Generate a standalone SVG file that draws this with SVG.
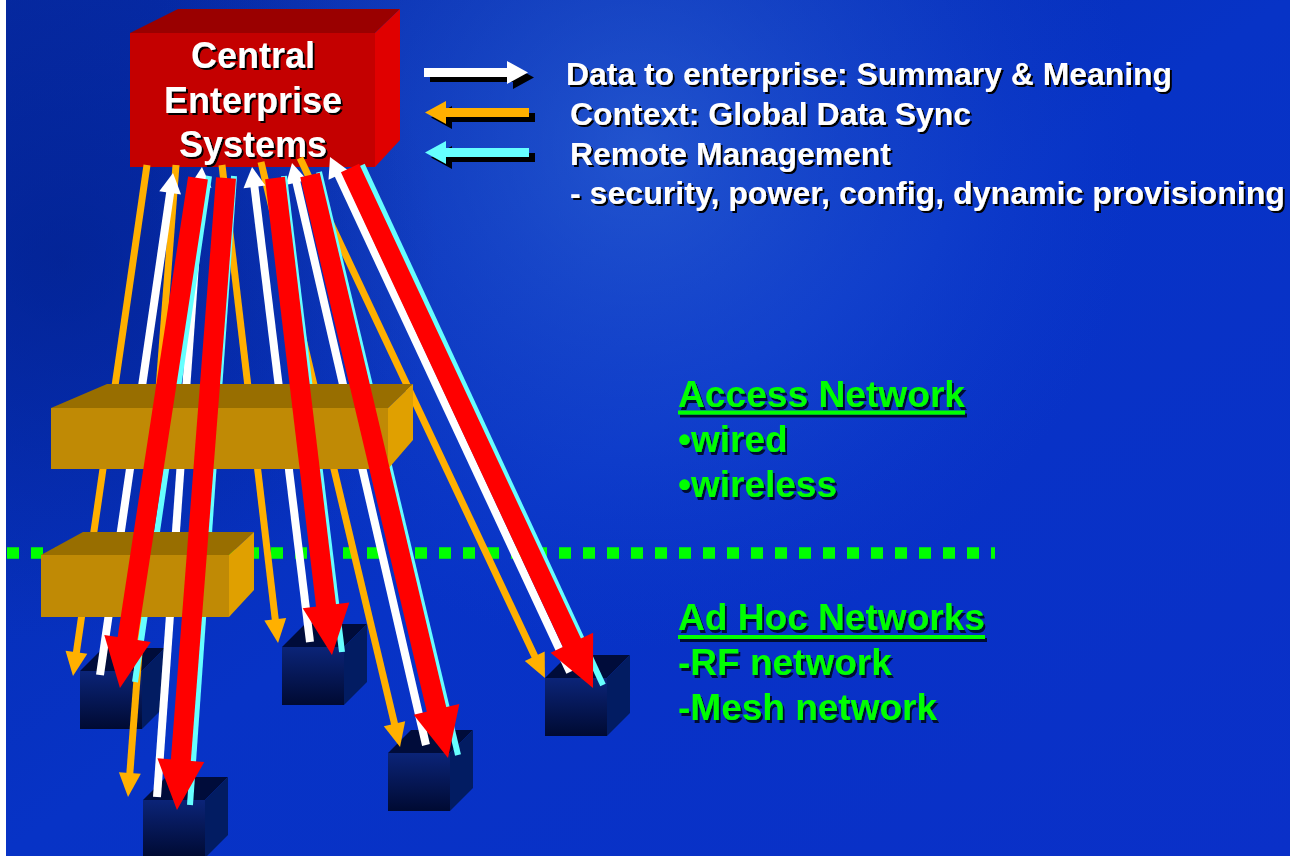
<svg xmlns="http://www.w3.org/2000/svg" xmlns:xlink="http://www.w3.org/1999/xlink" width="1290" height="856" viewBox="0 0 1290 856">
  <defs>
    <linearGradient id="bgBase" x1="0" y1="0" x2="1" y2="1">
      <stop offset="0" stop-color="#062aa4"/>
      <stop offset="0.5" stop-color="#0733c6"/>
      <stop offset="1" stop-color="#0a30c8"/>
    </linearGradient>
    <radialGradient id="bgGlow" cx="640" cy="150" r="500" gradientUnits="userSpaceOnUse">
      <stop offset="0" stop-color="#3d78e2" stop-opacity="0.5"/>
      <stop offset="0.6" stop-color="#2a60da" stop-opacity="0.22"/>
      <stop offset="1" stop-color="#1a4ad0" stop-opacity="0"/>
    </radialGradient>
    <radialGradient id="bgShade" cx="60" cy="260" r="380" gradientUnits="userSpaceOnUse">
      <stop offset="0" stop-color="#001c80" stop-opacity="0.5"/>
      <stop offset="1" stop-color="#001c80" stop-opacity="0"/>
    </radialGradient>
    <linearGradient id="cubeFront" x1="0" y1="0" x2="0" y2="1">
      <stop offset="0" stop-color="#0b2478"/>
      <stop offset="1" stop-color="#000a32"/>
    </linearGradient>

    <!-- hard drop shadows for labels -->
    <filter id="shadowBlack" x="-5%" y="-20%" width="115%" height="160%">
      <feDropShadow dx="2" dy="2" stdDeviation="0.4" flood-color="#000000" flood-opacity="1"/>
    </filter>
    <filter id="shadowNavy" x="-5%" y="-20%" width="115%" height="160%">
      <feDropShadow dx="2" dy="3" stdDeviation="0.4" flood-color="#000a30" flood-opacity="1"/>
    </filter>

    <!-- leaf node cube: front face 62x58, depth (+23,-23) -->
    <g id="cube">
      <polygon points="0,0 23,-23 85,-23 62,0" fill="#000c3a"/>
      <polygon points="62,0 85,-23 85,35 62,58" fill="#021c62"/>
      <rect x="0" y="0" width="62" height="58" fill="url(#cubeFront)"/>
    </g>

    <!-- legend arrow, pointing right, origin at the tail centre -->
    <path id="legendArrow" d="M0,-4.5 H83 V-11.5 L104,0 L83,11.5 V4.5 H0 Z"/>

    <marker id="headRed" markerUnits="userSpaceOnUse" viewBox="0 -25 50 50" markerWidth="50" markerHeight="50" refX="20" refY="0" orient="auto" overflow="visible">
      <path d="M0,-23.5 L50,0 L0,23.5 Z" fill="#ff0000"/>
    </marker>
    <marker id="headOrange" markerUnits="userSpaceOnUse" viewBox="0 -12 24 24" markerWidth="24" markerHeight="24" refX="10" refY="0" orient="auto" overflow="visible">
      <path d="M0,-11 L24,0 L0,11 Z" fill="#ffb000"/>
    </marker>
    <marker id="headWhite" markerUnits="userSpaceOnUse" viewBox="0 -12 20 24" markerWidth="20" markerHeight="24" refX="8" refY="0" orient="auto" overflow="visible">
      <path d="M0,-11 L20,0 L0,11 Z" fill="#ffffff"/>
    </marker>

    <style>
      .txt { font-family: "Liberation Sans", Arial, sans-serif; font-weight: bold; }
      .boxText { font-size: 36px; text-anchor: middle; }
      .legend { font-size: 31px; }
      .net { font-size: 37px; }
      .white { fill: #ffffff; }
      .green { fill: #00ff00; }
      .orange { stroke: #ffb000; stroke-width: 7; fill: none; }
      .whiteLn { stroke: #ffffff; stroke-width: 8; fill: none; }
      .cyan { stroke: #66ffff; stroke-width: 6; fill: none; }
      .red { stroke: #ff0000; stroke-width: 20; fill: none; }
    </style>
  </defs>

  <!-- background -->
  <rect x="0" y="0" width="1290" height="856" fill="url(#bgBase)"/>
  <rect x="0" y="0" width="1290" height="856" fill="url(#bgGlow)"/>
  <rect x="0" y="0" width="1290" height="856" fill="url(#bgShade)"/>
  <rect x="0" y="0" width="6" height="856" fill="#ffffff"/>

  <!-- network boundary -->
  <line id="boundary" x1="7" y1="553" x2="995" y2="553" stroke="#00ff00" stroke-width="11.5" stroke-dasharray="12 12"/>

  <!-- central enterprise block -->
  <g id="central-enterprise">
    <polygon points="130,33 178,9 400,9 375,33" fill="#9a0000"/>
    <polygon points="375,33 400,9 400,140 375,167" fill="#e00000"/>
    <rect x="130" y="33" width="245" height="134" fill="#c40000"/>
    <g class="txt boxText white" filter="url(#shadowBlack)">
      <text x="253" y="68">Central</text>
      <text x="253" y="113">Enterprise</text>
      <text x="253" y="157">Systems</text>
    </g>
  </g>

  <!-- leaf devices -->
  <use id="device-a" xlink:href="#cube" href="#cube" x="80" y="671"/>
  <use id="device-b" xlink:href="#cube" href="#cube" x="143" y="800"/>
  <use id="device-c" xlink:href="#cube" href="#cube" x="282" y="647"/>
  <use id="device-d" xlink:href="#cube" href="#cube" x="388" y="753"/>
  <use id="device-e" xlink:href="#cube" href="#cube" x="545" y="678"/>

  <!-- thin flows: context (orange), data (white), management (cyan) -->
  <g id="flows-thin">
    <path class="orange" d="M147,165 L75.0,662.1" marker-end="url(#headOrange)"/>
    <path class="orange" d="M176,165 L129.1,783.0" marker-end="url(#headOrange)"/>
    <path class="orange" d="M222,165 L276.4,629.1" marker-end="url(#headOrange)"/>
    <path class="orange" d="M261,162 L396.8,733.4" marker-end="url(#headOrange)"/>
    <path class="orange" d="M300,158 L539.0,665.3" marker-end="url(#headOrange)"/>

    <path class="whiteLn" d="M100,675 L171.3,184.9" marker-end="url(#headWhite)"/>
    <path class="whiteLn" d="M157,797 L201.1,179.0" marker-end="url(#headWhite)"/>
    <path class="whiteLn" d="M310,642 L253.5,178.9" marker-end="url(#headWhite)"/>
    <path class="whiteLn" d="M426,745 L294.7,174.7" marker-end="url(#headWhite)"/>
    <path class="whiteLn" d="M570,672 L335.1,167.9" marker-end="url(#headWhite)"/>

    <path class="cyan" d="M209,176 L135,682"/>
    <path class="cyan" d="M234,176 L190,805"/>
    <path class="cyan" d="M284,176 L342,652"/>
    <path class="cyan" d="M319,172 L458,755"/>
    <path class="cyan" d="M362,165 L603,685"/>
  </g>

  <!-- access network equipment -->
  <g id="access-upper">
    <polygon points="51,408 107,384 413,384 388,408" fill="#986e00"/>
    <polygon points="388,408 413,384 413,440 388,469" fill="#e0a000"/>
    <rect x="51" y="408" width="337" height="61" fill="#c08a05"/>
  </g>
  <g id="access-lower">
    <polygon points="41,555 83,532 254,532 229,555" fill="#986e00"/>
    <polygon points="229,555 254,532 254,590 229,617" fill="#e0a000"/>
    <rect x="41" y="555" width="188" height="62" fill="#c08a05"/>
  </g>

  <!-- main flows to devices -->
  <g id="flows-main">
    <path class="red" d="M198,178 L124.5,658.3" marker-end="url(#headRed)"/>
    <path class="red" d="M226,178 L179.3,780.1" marker-end="url(#headRed)"/>
    <path class="red" d="M275,178 L328.4,625.2" marker-end="url(#headRed)"/>
    <path class="red" d="M310,175 L441.1,728.8" marker-end="url(#headRed)"/>
    <path class="red" d="M350,168 L580.3,660.8" marker-end="url(#headRed)"/>
  </g>

  <!-- legend -->
  <g id="legend">
    <use xlink:href="#legendArrow" href="#legendArrow" transform="translate(430,77.5)" fill="#000000"/>
    <use xlink:href="#legendArrow" href="#legendArrow" transform="translate(424,72.5)" fill="#ffffff"/>
    <use xlink:href="#legendArrow" href="#legendArrow" transform="translate(535,117.5) scale(-1,1)" fill="#000000"/>
    <use xlink:href="#legendArrow" href="#legendArrow" transform="translate(529,112.5) scale(-1,1)" fill="#ffb000"/>
    <use xlink:href="#legendArrow" href="#legendArrow" transform="translate(535,157.5) scale(-1,1)" fill="#000000"/>
    <use xlink:href="#legendArrow" href="#legendArrow" transform="translate(529,152.5) scale(-1,1)" fill="#66ffff"/>
    <g class="txt legend white" filter="url(#shadowBlack)">
      <text x="566" y="85" textLength="606" lengthAdjust="spacingAndGlyphs">Data to enterprise: Summary &amp; Meaning</text>
      <text x="570" y="125" textLength="401" lengthAdjust="spacingAndGlyphs">Context: Global Data Sync</text>
      <text x="570" y="165" textLength="321" lengthAdjust="spacingAndGlyphs">Remote Management</text>
      <text x="570" y="204" textLength="715" lengthAdjust="spacingAndGlyphs">- security, power, config, dynamic provisioning</text>
    </g>
  </g>

  <!-- network tier labels -->
  <g id="access-label" class="txt net green" filter="url(#shadowNavy)">
    <text x="678" y="407" textLength="287" lengthAdjust="spacingAndGlyphs">Access Network</text>
    <rect x="678" y="410.5" width="287" height="4"/>
    <text x="678" y="452">•wired</text>
    <text x="678" y="497">•wireless</text>
  </g>
  <g id="adhoc-label" class="txt net green" filter="url(#shadowNavy)">
    <text x="678" y="630" textLength="307" lengthAdjust="spacingAndGlyphs">Ad Hoc Networks</text>
    <rect x="678" y="635" width="307" height="4"/>
    <text x="678" y="675">-RF network</text>
    <text x="678" y="720">-Mesh network</text>
  </g>
</svg>
